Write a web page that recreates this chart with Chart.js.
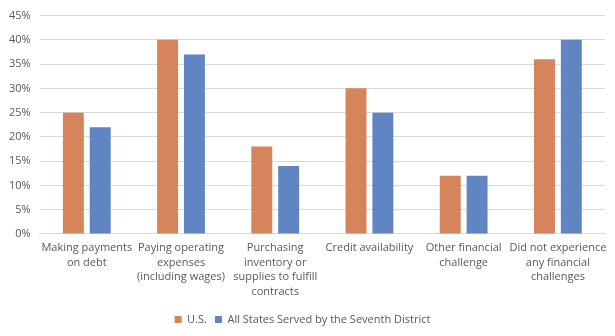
<!DOCTYPE html>
<html><head><meta charset="utf-8">
<script src="https://cdn.jsdelivr.net/npm/chart.js@4/dist/chart.umd.min.js"></script>
<style>html,body{margin:0;padding:0;background:#fff}#wrap{width:615px;height:336px}</style>
</head><body><div id="wrap"><canvas id="c"></canvas></div>
<script>
const categories = [
  ["Making payments","on debt"],
  ["Paying operating","expenses","(including wages)"],
  ["Purchasing","inventory or","supplies to fulfill","contracts"],
  ["Credit availability"],
  ["Other financial","challenge"],
  ["Did not experience","any financial","challenges"]
];
const usValues = [25, 40, 18, 30, 12, 36];
const seventhValues = [22, 37, 14, 25, 12, 40];
const seriesNames = ["U.S.", "All States Served by the Seventh District"];

Chart.defaults.font.family = "'Open Sans', 'Liberation Sans', sans-serif";
Chart.defaults.font.size = 11;
Chart.defaults.color = "#595959";

new Chart(document.getElementById('c'), {
  type: 'bar',
  data: {
    labels: categories,
    datasets: [
      {label: seriesNames[0], data: usValues, backgroundColor: '#D5845B', categoryPercentage: 0.57, barPercentage: 0.78},
      {label: seriesNames[1], data: seventhValues, backgroundColor: '#6185C2', categoryPercentage: 0.57, barPercentage: 0.78}
    ]
  },
  options: {
    responsive: true, maintainAspectRatio: false, animation: false,
    layout: {padding: {left: 0, right: 10, top: 8, bottom: 1}},
    plugins: {
      legend: {position: 'bottom', labels: {boxWidth: 7, boxHeight: 7, padding: 8, color: '#595959', font: {size: 11}}},
      tooltip: {enabled: false}
    },
    scales: {
      x: {
        grid: {display: false, drawTicks: false},
        border: {color: '#D9D9D9'},
        ticks: {maxRotation: 0, autoSkip: false, padding: 7, color: '#595959', font: {size: 11, lineHeight: 1.32}}
      },
      y: {
        min: 0, max: 45,
        ticks: {stepSize: 5, callback: v => v + '%', padding: 9, color: '#595959'},
        grid: {color: '#D9D9D9', drawTicks: false},
        border: {display: false}
      }
    }
  }
});
</script></body></html>
